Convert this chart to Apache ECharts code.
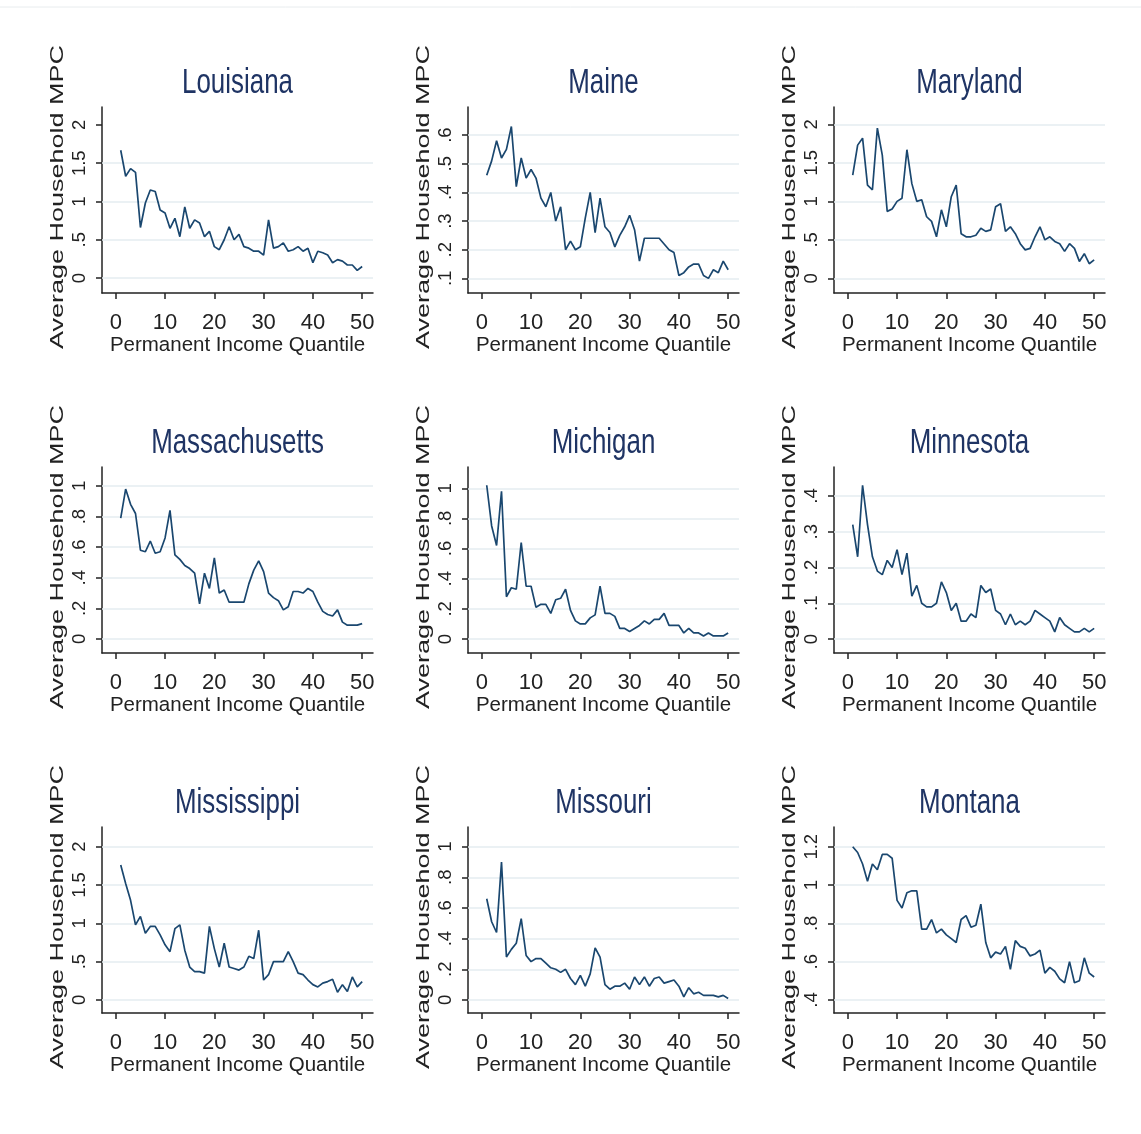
<!DOCTYPE html>
<html>
<head>
<meta charset="utf-8">
<script src="https://cdn.jsdelivr.net/npm/echarts@6/dist/echarts.min.js"></script>
<style>
  html, body { margin: 0; padding: 0; background: #fff; }
  #mychart { width: 1141px; height: 1134px; }
</style>
</head>
<body>
<div id="mychart"></div>
<script>
// x: permanent income quantile
var quantiles = [1,2,3,4,5,6,7,8,9,10,11,12,13,14,15,16,17,18,19,20,21,22,23,24,25,
                 26,27,28,29,30,31,32,33,34,35,36,37,38,39,40,41,42,43,44,45,46,47,48,49,50];

// average household MPC by quantile
var louisiana = [1.67,1.33,1.43,1.38,0.66,0.98,1.15,1.13,0.89,0.85, 0.65,0.78,0.54,0.93,0.65,0.76,0.72,0.54,0.61,0.41,
                 0.37,0.50,0.67,0.50,0.57,0.41,0.39,0.35,0.35,0.30, 0.76,0.39,0.41,0.46,0.35,0.37,0.41,0.35,0.39,0.20,
                 0.35,0.33,0.30,0.20,0.24,0.22,0.17,0.17,0.10,0.15];
var maine = [0.46,0.51,0.58,0.52,0.55,0.63,0.42,0.52,0.45,0.48, 0.45,0.38,0.35,0.40,0.30,0.35,0.20,0.23,0.20,0.21,
             0.31,0.40,0.26,0.38,0.28,0.26,0.21,0.25,0.28,0.32, 0.27,0.16,0.24,0.24,0.24,0.24,0.22,0.20,0.19,0.11,
             0.12,0.14,0.15,0.15,0.11,0.10,0.13,0.12,0.16,0.13];
var maryland = [1.34,1.73,1.82,1.21,1.15,1.95,1.60,0.87,0.90,1.00, 1.04,1.67,1.23,1.00,1.02,0.80,0.74,0.54,0.89,0.67,
                1.06,1.21,0.58,0.54,0.54,0.56,0.65,0.61,0.63,0.93, 0.97,0.61,0.67,0.58,0.45,0.37,0.39,0.54,0.67,0.50,
                0.54,0.48,0.45,0.35,0.45,0.39,0.22,0.32,0.19,0.24];
var massachusetts = [0.79,0.98,0.88,0.82,0.58,0.57,0.64,0.56,0.57,0.66, 0.84,0.55,0.52,0.48,0.46,0.43,0.23,0.43,0.33,0.53,
                     0.30,0.32,0.24,0.24,0.24,0.24,0.36,0.45,0.51,0.44, 0.30,0.27,0.25,0.19,0.21,0.31,0.31,0.30,0.33,0.31,
                     0.24,0.18,0.16,0.15,0.19,0.11,0.09,0.09,0.09,0.10];
var michigan = [1.02,0.75,0.62,0.98,0.28,0.34,0.33,0.64,0.35,0.35, 0.21,0.23,0.23,0.17,0.26,0.27,0.33,0.19,0.12,0.10,
                0.10,0.14,0.16,0.35,0.17,0.17,0.15,0.07,0.07,0.05, 0.07,0.09,0.12,0.10,0.13,0.13,0.17,0.09,0.09,0.09,
                0.04,0.07,0.04,0.04,0.02,0.04,0.02,0.02,0.02,0.04];
var minnesota = [0.32,0.23,0.43,0.32,0.23,0.19,0.18,0.22,0.20,0.25, 0.18,0.24,0.12,0.15,0.10,0.09,0.09,0.10,0.16,0.13,
                 0.08,0.10,0.05,0.05,0.07,0.06,0.15,0.13,0.14,0.08, 0.07,0.04,0.07,0.04,0.05,0.04,0.05,0.08,0.07,0.06,
                 0.05,0.02,0.06,0.04,0.03,0.02,0.02,0.03,0.02,0.03];
var mississippi = [1.76,1.52,1.30,0.98,1.09,0.87,0.96,0.96,0.85,0.72, 0.63,0.93,0.98,0.65,0.43,0.37,0.37,0.35,0.96,0.67,
                   0.43,0.74,0.43,0.41,0.39,0.43,0.57,0.54,0.91,0.26, 0.33,0.50,0.50,0.50,0.63,0.50,0.35,0.33,0.26,0.20,
                   0.17,0.22,0.24,0.27,0.10,0.20,0.11,0.30,0.17,0.24];
var missouri = [0.66,0.51,0.44,0.90,0.28,0.33,0.37,0.53,0.29,0.25, 0.27,0.27,0.24,0.21,0.20,0.18,0.20,0.14,0.10,0.16,
                0.09,0.17,0.34,0.28,0.10,0.07,0.09,0.09,0.11,0.07, 0.15,0.10,0.15,0.09,0.14,0.15,0.11,0.12,0.13,0.09,
                0.02,0.08,0.04,0.05,0.03,0.03,0.03,0.02,0.03,0.01];
var montana = [1.20,1.17,1.11,1.02,1.11,1.08,1.16,1.16,1.14,0.92, 0.88,0.96,0.97,0.97,0.77,0.77,0.82,0.75,0.77,0.74,
               0.72,0.70,0.82,0.84,0.78,0.79,0.90,0.70,0.62,0.65, 0.64,0.68,0.56,0.71,0.68,0.67,0.63,0.64,0.66,0.54,
               0.57,0.55,0.51,0.49,0.60,0.49,0.50,0.62,0.54,0.52];

// tick values
var ticksX = [0,10,20,30,40,50];
var ticksLouisiana = [0,0.5,1,1.5,2];
var ticksMaine = [0.1,0.2,0.3,0.4,0.5,0.6];
var ticksMaryland = [0,0.5,1,1.5,2];
var ticksMassachusetts = [0,0.2,0.4,0.6,0.8,1];
var ticksMichigan = [0,0.2,0.4,0.6,0.8,1];
var ticksMinnesota = [0,0.1,0.2,0.3,0.4];
var ticksMississippi = [0,0.5,1,1.5,2];
var ticksMissouri = [0,0.2,0.4,0.6,0.8,1];
var ticksMontana = [0.4,0.6,0.8,1,1.2];

var states = ['Louisiana','Maine','Maryland','Massachusetts','Michigan','Minnesota','Mississippi','Missouri','Montana'];

var panels = [
  {name: states[0], data: louisiana,     ticks: ticksLouisiana,     grid: [0,0.5,1,1.5], min: -0.196, max: 2.235},
  {name: states[1], data: maine,         ticks: ticksMaine,         grid: ticksMaine,    min: 0.049,  max: 0.698},
  {name: states[2], data: maryland,      ticks: ticksMaryland,      grid: ticksMaryland, min: -0.19,  max: 2.225},
  {name: states[3], data: massachusetts, ticks: ticksMassachusetts, grid: ticksMassachusetts, min: -0.092, max: 1.124},
  {name: states[4], data: michigan,      ticks: ticksMichigan,      grid: ticksMichigan, min: -0.093, max: 1.141},
  {name: states[5], data: minnesota,     ticks: ticksMinnesota,     grid: ticksMinnesota, min: -0.039, max: 0.481},
  {name: states[6], data: mississippi,   ticks: ticksMississippi,   grid: ticksMississippi, min: -0.17, max: 2.257},
  {name: states[7], data: missouri,      ticks: ticksMissouri,      grid: ticksMissouri, min: -0.085, max: 1.128},
  {name: states[8], data: montana,       ticks: ticksMontana,       grid: ticksMontana,  min: 0.332,  max: 1.303}
];

var lineColor = '#1a476f';
var axisColor = '#222';
var gridColor = '#e4edf0';
var txtFont = "'Liberation Sans', Arial, sans-serif";

// Stata style: .5 instead of 0.5
function stataNum(v) {
  return String(v).replace(/^0\./, '.');
}

function createOption() {
  var option = {
    backgroundColor: '#fff',
    animation: false,
    grid: [],
    xAxis: [],
    yAxis: [],
    series: [],
    graphic: [{
      type: 'line', silent: true,
      shape: {x1: 0, y1: 7, x2: 1141, y2: 7},
      style: {stroke: '#e8ecee', lineWidth: 1}
    }]
  };
  for (var i = 0; i < panels.length; i++) {
    var p = panels[i];
    var col = i % 3;
    var row = Math.floor(i / 3);
    var left = 102 + 366 * col;
    var top = 107 + 360 * row;
    var w = 271, h = 186;

    option.grid.push({left: left, top: top, width: w, height: h, containLabel: false});

    // 标题 (narrow, like the Stata export)
    option.graphic.push({
      type: 'text', silent: true,
      x: left + w / 2, y: top - 24, scaleX: 0.74,
      style: {text: p.name, fontSize: 35, fontFamily: txtFont, fill: '#1f3464',
              align: 'center', verticalAlign: 'middle', textAlign: 'center', textVerticalAlign: 'middle'}
    });
    // y 轴名称, stretched along the baseline
    option.graphic.push({
      type: 'text', silent: true,
      x: left - 44.5, y: top + 90, rotation: Math.PI / 2, scaleX: 1.42,
      style: {text: 'Average Household MPC', fontSize: 19, fontFamily: txtFont, fill: axisColor,
              align: 'center', verticalAlign: 'middle', textAlign: 'center', textVerticalAlign: 'middle'}
    });

    option.xAxis.push({
      type: 'value', gridIndex: i, min: -2.8, max: 52.2,
      axisLine: {show: true, onZero: false, lineStyle: {color: axisColor, width: 1.5}},
      axisTick: {show: true, length: 6, customValues: ticksX, lineStyle: {color: axisColor, width: 1.5}},
      axisLabel: {customValues: ticksX, margin: 19, fontSize: 22, color: axisColor, fontFamily: txtFont},
      splitLine: {show: false},
      name: 'Permanent Income Quantile', nameLocation: 'middle', nameGap: 41,
      nameTextStyle: {fontSize: 20.5, color: axisColor, fontFamily: txtFont}
    });

    option.yAxis.push({
      type: 'value', gridIndex: i, min: p.min, max: p.max,
      axisLine: {show: true, onZero: false, lineStyle: {color: axisColor, width: 1.5}},
      axisTick: {show: true, length: 6, customValues: p.ticks, lineStyle: {color: axisColor, width: 1.5}},
      axisLabel: {customValues: p.ticks, rotate: 90, margin: 13, fontSize: 18.5, color: axisColor,
                  fontFamily: txtFont, formatter: stataNum},
      splitLine: {show: false}
    });

    option.series.push({
      name: p.name,
      type: 'line',
      xAxisIndex: i,
      yAxisIndex: i,
      symbol: 'none',
      data: quantiles.map(function (q, k) { return [q, p.data[k]]; }),
      lineStyle: {color: lineColor, width: 1.7},
      itemStyle: {color: lineColor},
      markLine: {
        silent: true, symbol: 'none', z: 1, animation: false,
        label: {show: false},
        lineStyle: {color: gridColor, width: 1.6, type: 'solid'},
        data: p.grid.map(function (v) { return {yAxis: v}; })
      }
    });
  }
  return option;
}

var mychart = echarts.init(document.getElementById('mychart'));
mychart.setOption(createOption());
window.onresize = function () {
  mychart.resize();
};
</script>
</body>
</html>
